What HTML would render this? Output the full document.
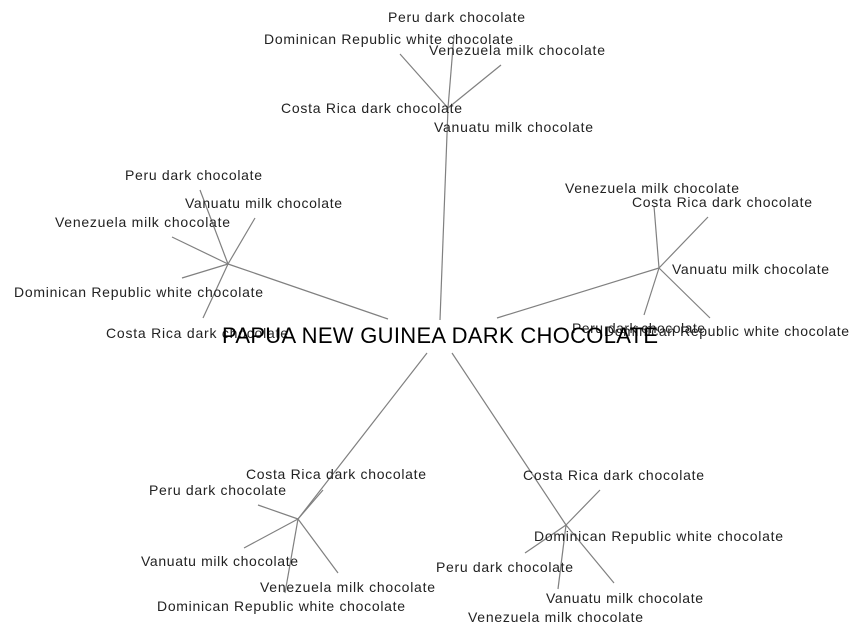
<!DOCTYPE html>
<html><head><meta charset="utf-8"><style>
html,body{margin:0;padding:0;background:#fff;}
svg{display:block;}
text{font-family:"Liberation Sans",Arial,sans-serif;font-size:14px;fill:#222;}
</style></head><body>
<svg width="864" height="637" viewBox="0 0 864 637" xmlns="http://www.w3.org/2000/svg">
<g stroke="#808080" stroke-width="1.2" fill="none">
<line x1="440" y1="320" x2="448" y2="108"/>
<line x1="448" y1="108" x2="454" y2="35"/>
<line x1="448" y1="108" x2="400" y2="54"/>
<line x1="448" y1="108" x2="501" y2="65"/>
<line x1="388" y1="319" x2="228" y2="264"/>
<line x1="228" y1="264" x2="200" y2="190"/>
<line x1="228" y1="264" x2="255" y2="218"/>
<line x1="228" y1="264" x2="172" y2="237"/>
<line x1="228" y1="264" x2="182" y2="278"/>
<line x1="228" y1="264" x2="203" y2="318"/>
<line x1="497" y1="318" x2="659" y2="268"/>
<line x1="659" y1="268" x2="654" y2="206"/>
<line x1="659" y1="268" x2="708" y2="217"/>
<line x1="659" y1="268" x2="644" y2="315"/>
<line x1="659" y1="268" x2="710" y2="318"/>
<line x1="427" y1="353" x2="298" y2="519"/>
<line x1="298" y1="519" x2="323" y2="490"/>
<line x1="298" y1="519" x2="258" y2="505"/>
<line x1="298" y1="519" x2="244" y2="548"/>
<line x1="298" y1="519" x2="338" y2="573"/>
<line x1="298" y1="519" x2="285" y2="593"/>
<line x1="452" y1="353" x2="566" y2="525"/>
<line x1="566" y1="525" x2="600" y2="490"/>
<line x1="566" y1="525" x2="525" y2="553"/>
<line x1="566" y1="525" x2="614" y2="583"/>
<line x1="566" y1="525" x2="558" y2="589"/>
</g>
<text x="388" y="22" textLength="137">Peru dark chocolate</text>
<text x="264" y="44" textLength="249">Dominican Republic white chocolate</text>
<text x="429" y="55" textLength="176">Venezuela milk chocolate</text>
<text x="281" y="113" textLength="181">Costa Rica dark chocolate</text>
<text x="434" y="132" textLength="159">Vanuatu milk chocolate</text>

<text x="125" y="180" textLength="137">Peru dark chocolate</text>
<text x="185" y="208" textLength="157">Vanuatu milk chocolate</text>
<text x="55" y="227" textLength="175">Venezuela milk chocolate</text>
<text x="14" y="297" textLength="249">Dominican Republic white chocolate</text>
<text x="106" y="338" textLength="182">Costa Rica dark chocolate</text>

<text x="565" y="193" textLength="174">Venezuela milk chocolate</text>
<text x="632" y="207" textLength="180">Costa Rica dark chocolate</text>
<text x="672" y="274" textLength="157">Vanuatu milk chocolate</text>
<text x="572" y="333" textLength="133">Peru dark chocolate</text>
<text x="604" y="336" textLength="245">Dominican Republic white chocolate</text>

<text x="246" y="479" textLength="180">Costa Rica dark chocolate</text>
<text x="149" y="495" textLength="137">Peru dark chocolate</text>
<text x="141" y="566" textLength="157">Vanuatu milk chocolate</text>
<text x="260" y="592" textLength="175">Venezuela milk chocolate</text>
<text x="157" y="611" textLength="248">Dominican Republic white chocolate</text>

<text x="523" y="480" textLength="181">Costa Rica dark chocolate</text>
<text x="534" y="541" textLength="249">Dominican Republic white chocolate</text>
<text x="436" y="572" textLength="137">Peru dark chocolate</text>
<text x="546" y="603" textLength="157">Vanuatu milk chocolate</text>
<text x="468" y="622" textLength="175">Venezuela milk chocolate</text>

<text x="222" y="343" textLength="436" style="font-size:22px;fill:#000">PAPUA NEW GUINEA DARK CHOCOLATE</text>
</svg>
</body></html>
